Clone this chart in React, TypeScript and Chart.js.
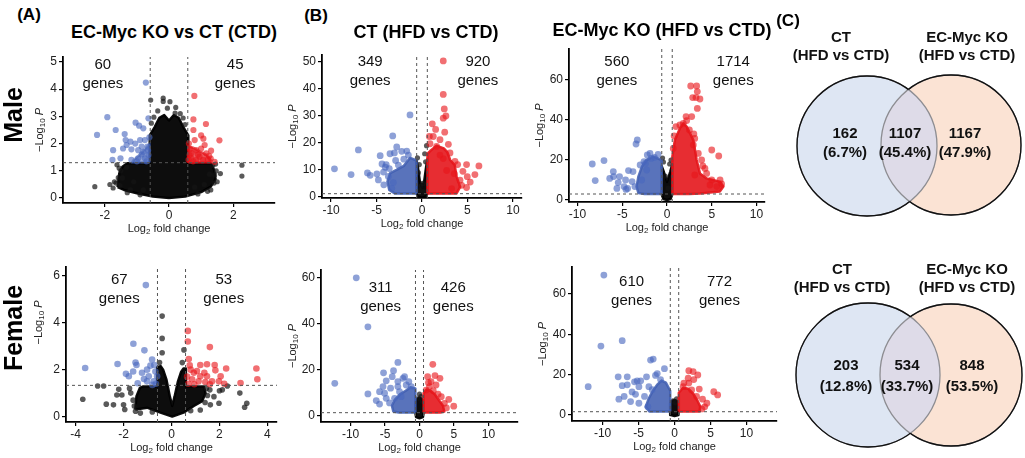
import React, { useEffect, useRef } from "react";
import { Chart, registerables } from "chart.js";
Chart.register(...registerables);

type P = [number, number];
const FONT = '"Liberation Sans", Arial, Helvetica, sans-serif';

// ---------------- thresholds ----------------
const FC_CUT = 0.585;

// ---------------- Male, panel A: EC-Myc KO vs CT (CTD) ----------------
const maleA_xTicks = [-2, 0, 2];
const maleA_yTicks = [0, 1, 2, 3, 4, 5];
const maleA_counts = [60, 45];
const maleA_nsCloud: P[] = [[-1.6,0.4],[-1.55,0.9],[-1.45,1.15],[-1.3,1.28],[-0.6,1.28],[-0.6,2.3],[-0.45,2.6],[-0.3,2.95],[-0.15,3.05],[0,2.85],[0.15,3.05],[0.3,2.95],[0.45,2.6],[0.6,2.3],[0.6,1.28],[1.3,1.28],[1.4,1.05],[1.45,0.7],[1.3,0.42],[1.0,0.22],[0.5,0.06],[0,0],[-0.5,0.06],[-1.0,0.18],[-1.4,0.3],[-1.6,0.4]];
const maleA_downCloud: P[] = [[-0.6,1.31],[-0.6,2.0],[-0.75,1.8],[-0.95,1.55],[-1.1,1.4],[-1.15,1.31],[-0.6,1.31]];
const maleA_upCloud: P[] = [[0.6,1.31],[0.6,1.9],[0.75,1.85],[0.95,1.72],[1.15,1.6],[1.3,1.4],[1.32,1.31],[0.6,1.31]];
const maleA_ns: P[] = [[2.27,1.21],[2.27,0.81],[-2.31,0.42],[-1.84,0.5],[-1.74,0.37],[-1.53,0.46],[-1.45,0.74],[-1.55,1.1],[-1.32,1.13],[-1.7,0.6],[-1.2,0.3],[1.36,1.2],[1.26,0.88],[1.47,1.0],[1.5,0.6],[1.3,0.3],[-0.57,3.6],[-0.18,3.67],[-0.18,3.55],[0.03,3.54],[0.21,3.33],[-0.47,2.97],[0.19,3.12],[0.44,2.94],[-0.35,3.2],[0.35,3.1],[-0.05,3.3],[0.5,2.7],[-0.55,2.75],[1.1,0.5],[-1.1,0.6],[0.8,0.4],[-0.8,0.3],[1.6,0.9],[-1.65,0.55],[-1.58,0.75],[-1.5,1.0],[1.42,0.85],[1.4,0.55],[1.2,0.25],[-1.3,0.2],[0.9,0.15],[-0.9,0.12],[-1.62,1.22],[1.45,1.25]];
const maleA_down: P[] = [[-0.72,4.24],[-1.92,2.97],[-2.24,2.32],[-1.66,2.5],[-1.38,2.35],[-1.04,2.77],[-0.93,2.66],[-0.8,2.56],[-0.64,2.93],[-1.35,2.13],[-1.2,2.07],[-1.05,2.0],[-0.9,2.13],[-0.75,2.13],[-1.74,1.76],[-1.43,1.82],[-1.17,1.79],[-0.96,1.76],[-0.8,1.7],[-1.76,1.4],[-1.51,1.46],[-1.17,1.4],[-0.96,1.46],[-0.75,1.46],[-0.64,1.58],[-0.67,1.89],[-0.85,1.89],[-0.61,2.23],[-1.32,1.95],[-0.7,1.35],[-0.85,1.6],[-0.65,1.75],[-1.0,1.35]];
const maleA_up: P[] = [[0.79,3.75],[0.76,2.89],[1.15,2.72],[0.76,2.5],[1.57,2.12],[1.0,2.3],[1.07,2.18],[0.8,2.13],[0.66,1.8],[0.85,1.76],[1.0,1.82],[1.31,1.74],[1.16,1.64],[0.95,1.52],[0.69,1.46],[0.85,1.4],[1.06,1.4],[1.21,1.42],[1.42,1.33],[0.64,1.58],[1.11,1.95],[0.61,1.4],[0.7,1.65],[0.9,1.6],[0.75,1.35],[1.25,1.55],[0.62,2.0],[1.3,1.45]];

// ---------------- Male, panel B: CT (HFD vs CTD) ----------------
const maleB1_xTicks = [-10, -5, 0, 5, 10];
const maleB1_yTicks = [0, 10, 20, 30, 40, 50];
const maleB1_counts = [349, 920];
const maleB1_nsCloud: P[] = [[-0.6,1.3],[-0.6,13.5],[-0.45,11],[-0.25,6],[0,3.5],[0.25,6],[0.45,11],[0.6,14],[0.6,1.3],[0.45,0.2],[0,-0.3],[-0.45,0.2],[-0.6,1.3]];
const maleB1_downCloud: P[] = [[-0.6,1.3],[-0.6,13.5],[-1.3,14.5],[-2.0,11.5],[-2.8,10],[-3.5,8.8],[-3.8,5.7],[-3.6,2.6],[-3.0,1.3],[-0.6,1.3]];
const maleB1_upCloud: P[] = [[0.6,1.3],[0.6,16],[0.9,17],[1.6,19],[2.4,18],[2.8,16.5],[3.1,13.7],[3.6,11.8],[3.8,7.5],[4.2,3.7],[3.8,1.3],[0.6,1.3]];
const maleB1_ns: P[] = [[0.5,19],[-0.5,14.5],[0.3,16],[-0.3,12],[0.1,5],[-0.1,4],[0.4,13],[-0.4,9],[0.2,2],[-0.2,2.5]];
const maleB1_down: P[] = [[-1.32,30.4],[-3.22,22.6],[-7.0,17.4],[-9.63,10.4],[-7.8,8.3],[-6.0,8.9],[-4.6,15.3],[-3.94,12.0],[-4.96,8.5],[-4.23,9.2],[-2.78,18.5],[-2.23,16.9],[-1.68,17.0],[-3.52,16.0],[-3.04,16.3],[-3.7,7.6],[-4.8,6.3],[-3.15,5.3],[-3.33,3.2],[-4.04,11.0],[-2.6,11.8],[-4.4,12.2],[-5.7,8.0],[-2.0,14.0],[-1.5,15.5],[-3.6,10.5],[-4.2,4.5],[-2.9,13.5]];
const maleB1_up: P[] = [[2.34,50.4],[2.34,38.0],[2.45,32.6],[2.63,30.0],[2.34,29.2],[1.13,27.1],[0.81,22.4],[1.24,22.4],[0.88,19.7],[1.98,21.2],[1.61,18.7],[3.08,16.3],[3.63,13.2],[3.92,12.0],[4.9,12.0],[6.26,11.5],[5.82,8.3],[4.98,7.5],[4.18,6.2],[4.36,4.3],[4.9,3.5],[3.26,3.1],[2.71,9.8],[2.34,14.2],[3.55,8.6],[1.98,15.5],[2.9,19.5],[2.5,24],[1.5,25],[4.5,9.5],[5.3,5.5]];

// ---------------- Male, panel B: EC-Myc KO (HFD vs CTD) ----------------
const maleB2_xTicks = [-10, -5, 0, 5, 10];
const maleB2_yTicks = [0, 20, 40, 60];
const maleB2_counts = [560, 1714];
const maleB2_nsCloud: P[] = [[-0.6,3],[-0.6,17],[-0.35,14],[0,9],[0.35,14],[0.6,18],[0.6,3],[0.4,0.5],[0,0],[-0.4,0.5],[-0.6,3]];
const maleB2_downCloud: P[] = [[-0.6,3],[-0.6,20],[-1.5,21.7],[-2.3,20],[-2.8,16.7],[-3.2,11.7],[-3.4,6.7],[-3.2,3.5],[-2.5,3],[-0.6,3]];
const maleB2_upCloud: P[] = [[0.6,3],[0.6,21.7],[0.88,30],[1.44,35.8],[1.82,38.3],[2.2,36.7],[2.57,33.3],[2.94,30],[3.31,20],[3.68,13.3],[4.43,10.8],[5.9,9.2],[6.3,6.7],[5.9,4.2],[3.7,3.3],[2.5,3],[0.6,3]];
const maleB2_ns: P[] = [[-0.4,19],[0.3,18],[-0.2,12],[0.1,6],[-0.5,21],[0.45,20]];
const maleB2_down: P[] = [[-3.32,30],[-3.46,28],[-8.35,18],[-7.04,19.7],[-8.02,9.7],[-6.0,14.2],[-5.97,11.7],[-6.4,10.8],[-5.45,8.7],[-4.63,10],[-4.3,14.7],[-3.8,14.2],[-3.9,9.2],[-4.8,6.7],[-4.4,5.8],[-2.4,18.3],[-2.57,19.2],[-1.9,23.3],[-1.4,21.3],[-1.77,20.8],[-2.27,15],[-2.83,10],[-3.59,6.7],[-5.3,11.7],[-5.6,5.8],[-4.58,5.3],[-3.0,17.5],[-2.2,22.5],[-1.0,22.8]];
const maleB2_up: P[] = [[2.65,57],[3.31,57],[3.39,54.2],[2.87,51.2],[3.24,51.2],[3.68,50.5],[3.39,45.8],[2.13,41.7],[1.82,38.3],[1.0,36.7],[1.44,37.5],[2.2,39.7],[3.1,30.8],[5.0,25],[5.78,22],[3.87,20],[4.24,15.8],[4.43,13.3],[5.0,10],[5.93,10],[6.1,8],[5.57,6.7],[4.8,7.5],[3.1,12.5],[3.5,23.3],[0.7,25.8],[2.94,27.5],[2.76,41.7],[2.5,35],[3.0,33],[4.0,17],[0.8,32]];

// ---------------- Female, panel A ----------------
const femaleA_xTicks = [-4, -2, 0, 2, 4];
const femaleA_yTicks = [0, 2, 4, 6];
const femaleA_counts = [67, 53];
const femaleA_nsCloud: P[] = [[-1.51,0.3],[-1.46,0.87],[-1.32,1.22],[-1.2,1.28],[-0.6,1.28],[-0.6,2.1],[-0.45,2.15],[-0.35,2.0],[-0.21,1.57],[-0.07,0.86],[0.03,0.45],[0.13,0.86],[0.27,1.5],[0.4,1.9],[0.5,2.05],[0.6,2.05],[0.6,1.28],[1.35,1.28],[1.42,1.0],[1.28,0.66],[0.93,0.45],[0.5,0.17],[0.03,0.0],[-0.46,0.17],[-1.02,0.38],[-1.51,0.3]];
const femaleA_ns: P[] = [[-3.7,0.74],[-3.08,1.3],[-2.83,1.3],[-2.72,0.53],[-2.42,0.5],[-2.28,0.92],[-2.07,0.92],[-1.95,0.3],[-1.5,0.23],[-1.75,1.2],[-2.2,1.16],[-2.0,0.5],[-0.39,4.28],[-0.39,3.33],[-0.39,2.72],[0.52,2.84],[1.6,1.14],[1.77,0.85],[1.98,0.57],[1.62,0.5],[1.2,0.28],[2.12,1.14],[2.33,1.3],[2.85,1.0],[3.14,0.57],[3.05,0.4],[-1.6,0.7],[-1.3,0.15],[1.5,0.9],[-0.5,2.3],[0.45,2.3],[-1.7,1.0],[2.0,1.1],[-1.55,0.45],[1.45,1.2],[1.4,0.6],[-0.8,0.2],[0.8,0.25]];
const femaleA_down: P[] = [[-1.07,5.6],[-3.6,2.07],[-2.25,2.24],[-1.59,3.1],[-1.13,2.82],[-1.5,2.3],[-1.46,2.2],[-1.9,1.82],[-1.78,1.72],[-1.41,1.42],[-1.6,1.92],[-1.02,2.0],[-1.23,1.87],[-0.81,2.43],[-0.72,2.2],[-0.95,1.72],[-0.74,1.5],[-1.02,1.5],[-0.6,1.72],[-0.67,1.92],[-0.88,2.17],[-0.65,1.4],[-0.8,1.35],[-1.15,1.6]];
const femaleA_up: P[] = [[0.68,3.65],[0.68,3.2],[1.6,2.96],[0.72,2.45],[0.76,2.18],[1.2,2.2],[1.48,2.23],[1.8,2.2],[1.83,1.97],[2.28,2.05],[3.54,2.05],[3.58,1.59],[2.88,1.43],[0.93,1.87],[1.2,1.72],[1.48,1.72],[0.86,1.59],[1.13,1.5],[1.41,1.47],[1.69,1.5],[1.98,1.5],[2.05,1.72],[1.06,1.94],[1.37,1.87],[0.7,1.4],[0.65,1.7],[0.95,1.38],[1.6,1.38],[2.2,1.4],[0.8,2.0]];

// ---------------- Female, panel B: CT (HFD vs CTD) ----------------
const femaleB1_xTicks = [-10, -5, 0, 5, 10];
const femaleB1_yTicks = [0, 20, 40, 60];
const femaleB1_counts = [311, 426];
const femaleB1_nsCloud: P[] = [[-0.6,1.4],[-0.6,6],[-0.3,7.5],[0,8],[0.3,7.5],[0.6,6],[0.6,1.4],[0.5,-0.5],[0,-1],[-0.5,-0.5],[-0.6,1.4]];
const femaleB1_downCloud: P[] = [[-0.6,1.5],[-0.6,12],[-1.3,12.5],[-2,11],[-2.8,9.5],[-3.6,7],[-4,4.5],[-3.8,2],[-3,1.5],[-0.6,1.5]];
const femaleB1_upCloud: P[] = [[0.6,1.5],[0.6,10],[1,11.5],[1.6,11],[2.2,9.5],[2.8,7],[3.4,4.5],[3.6,2],[3,1.5],[0.6,1.5]];
const femaleB1_ns: P[] = [[0.2,8.5],[-0.3,7.5],[0,9.5],[0.4,6.5]];
const femaleB1_down: P[] = [[-9.18,60.1],[-7.49,38.8],[-12.3,14.2],[-7.49,9.6],[-3.14,23.3],[-5.22,18.8],[-3.77,19.7],[-3.96,17.1],[-2.17,17.1],[-2.4,16.4],[-4.83,15.3],[-3.14,15.0],[-4.2,12.1],[-3.14,12.8],[-5.8,10.6],[-5.07,9.9],[-6.28,6.7],[-5.8,5.2],[-4.83,7.7],[-3.62,7.7],[-2.66,8.4],[-4.35,5.7],[-1.93,13.5],[-1.55,15.0],[-1.2,12.8],[-2.9,10.6],[-5.3,12.8]];
const femaleB1_up: P[] = [[1.93,22.5],[2.25,17.6],[2.97,16.4],[1.18,17.1],[1.67,15.0],[2.4,13.5],[4.25,7.2],[4.97,4.3],[3.16,8.4],[3.6,5.5],[1.45,12.8],[0.97,11.3],[2.0,11.0],[2.7,9.5],[3.9,3.5],[1.3,14.5]];

// ---------------- Female, panel B: EC-Myc KO (HFD vs CTD) ----------------
const femaleB2_xTicks = [-10, -5, 0, 5, 10];
const femaleB2_yTicks = [0, 20, 40, 60];
const femaleB2_counts = [610, 772];
const femaleB2_nsCloud: P[] = [[-0.6,1.6],[-0.6,6],[-0.3,7],[0,7.4],[0.3,7],[0.6,6],[0.6,1.6],[0.5,0],[0,-0.5],[-0.5,0],[-0.6,1.6]];
const femaleB2_downCloud: P[] = [[-0.6,1.7],[-0.6,12],[-1.2,16],[-1.8,17],[-2.4,15],[-3,12],[-3.6,8],[-4,4],[-3.5,1.7],[-0.6,1.7]];
const femaleB2_upCloud: P[] = [[0.6,1.7],[0.6,11],[1.2,13.5],[1.9,13],[2.6,10.5],[3.2,7],[3.6,4],[3.5,1.7],[0.6,1.7]];
const femaleB2_ns: P[] = [[0.3,8],[-0.2,7],[0.1,6]];
const femaleB2_down: P[] = [[-9.82,69.3],[-7.27,36.8],[-10.23,34.1],[-12.0,14.0],[-7.83,18.9],[-6.57,18.9],[-7.27,14.5],[-6.57,14.9],[-7.73,7.8],[-7.0,9.2],[-5.56,16.4],[-5.19,16.9],[-4.7,16.9],[-4.95,14.0],[-3.89,18.9],[-3.33,27.2],[-2.96,27.7],[-2.64,19.6],[-2.4,20.5],[-1.4,22.9],[-1.94,17.5],[-5.9,11.4],[-5.42,10.2],[-6.11,6.6],[-4.95,5.8],[-3.7,4.1],[-3.56,14.0],[-4.17,9.2],[-3.1,12.5]];
const femaleB2_up: P[] = [[1.99,21.9],[2.59,21.5],[3.24,19.8],[1.9,18.2],[2.68,17.5],[1.99,15.8],[1.3,15.8],[1.2,14.0],[5.46,11.5],[6.0,9.9],[4.5,5.8],[3.9,7.8],[3.07,9.2],[3.44,12.8],[2.38,12.4],[4.2,4.0],[3.8,3.0]];

// ---------------- Venn (C) ----------------
const vennSetNames = [["CT", "(HFD vs CTD)"], ["EC-Myc KO", "(HFD vs CTD)"]];
const vennMaleCounts = [162, 1107, 1167];
const vennMalePercents = ["6.7%", "45.4%", "47.9%"];
const vennFemaleCounts = [203, 534, 848];
const vennFemalePercents = ["12.8%", "33.7%", "53.5%"];

// ---------------- styling ----------------
const NS_PT = "rgba(20,20,20,0.7)";
const DOWN_PT = "rgba(72,104,190,0.62)";
const UP_PT = "rgba(232,22,28,0.62)";
const NS_FILL = "rgba(0,0,0,0.95)";
const DOWN_FILL = "rgba(66,96,178,0.88)";
const UP_FILL = "rgba(228,22,28,0.9)";

function drawPieces(ctx: CanvasRenderingContext2D, pieces: any[], cx: number, cy: number) {
  let total = 0;
  for (const p of pieces) {
    ctx.font = `${p.italic ? "italic " : ""}${p.size}px ${FONT}`;
    p.w = ctx.measureText(p.t).width;
    total += p.w;
  }
  let x = cx - total / 2;
  ctx.textAlign = "left";
  ctx.textBaseline = "middle";
  for (const p of pieces) {
    ctx.font = `${p.italic ? "italic " : ""}${p.size}px ${FONT}`;
    ctx.fillText(p.t, x, cy + (p.dy || 0));
    x += p.w;
  }
}

const volcanoText = {
  id: "volcanoText",
  afterDraw(chart: any, _a: any, o: any) {
    const { ctx, chartArea: ca } = chart;
    const xs = chart.scales.x, ys = chart.scales.y;
    ctx.save();
    ctx.fillStyle = "#111";
    ctx.textAlign = "center";
    ctx.textBaseline = "middle";
    ctx.font = `15px ${FONT}`;
    o.counts.forEach((n: number, i: number) => {
      const [gx, gy] = o.countPos[i];
      const px = xs.getPixelForValue(gx), py = ys.getPixelForValue(gy);
      ctx.fillText(String(n), px, py);
      ctx.fillText("genes", px, py + 19);
    });
    ctx.fillStyle = "#222";
    drawPieces(ctx, [{ t: "Log", size: 11 }, { t: "2", size: 8, dy: 3 }, { t: " fold change", size: 11 }], (ca.left + ca.right) / 2, ca.bottom + 26);
    ctx.save();
    ctx.translate(ca.left - o.yTitleOffset, (ca.top + ca.bottom) / 2 + (o.yTitleShift || 0));
    ctx.rotate(-Math.PI / 2);
    drawPieces(ctx, [{ t: "\u2212Log", size: 11 }, { t: "10", size: 8, dy: 3 }, { t: " ", size: 11 }, { t: "P", size: 11, italic: true }], 0, 0);
    ctx.restore();
    ctx.restore();
  },
};

function axis(min: number, max: number, ticks: number[], isX: boolean, size: number) {
  return {
    type: "linear",
    min,
    max,
    grid: { display: true, drawOnChartArea: false, drawTicks: true, tickLength: 4, color: "#000", lineWidth: 1.2 },
    border: { display: true, color: "#000", width: 1.8 },
    ticks: {
      color: "#222",
      font: { family: FONT, size: 12 },
      padding: isX ? 1 : 2,
      maxRotation: 0,
      autoSkip: false,
      includeBounds: false,
      callback: (v: any) => String(v),
    },
    afterBuildTicks: (s: any) => {
      s.ticks = ticks.map((v) => ({ value: v }));
    },
    afterFit: (s: any) => {
      if (isX) s.height = size;
      else s.width = size;
      s.paddingTop = 0;
      s.paddingBottom = 0;
      s.paddingLeft = 0;
      s.paddingRight = 0;
    },
  };
}

function volcano(spec: any) {
  const pts = (a: P[]) => a.map(([x, y]) => ({ x, y }));
  const thr = (data: any[]) => ({
    data,
    showLine: true,
    borderColor: "#555",
    borderWidth: 1,
    borderDash: [3, 3],
    pointRadius: 0,
    fill: false,
  });
  const cloud = (a: P[], c: string) => ({
    data: pts(a),
    showLine: true,
    fill: "shape",
    backgroundColor: c,
    borderColor: c,
    borderWidth: 2.5,
    borderJoinStyle: "round",
    pointRadius: 0,
  });
  const dots = (a: P[], c: string, r: number) => ({
    data: pts(a),
    backgroundColor: c,
    borderWidth: 0,
    pointRadius: r,
    pointHoverRadius: r,
  });
  const [xMin, xMax] = spec.xRange;
  const [yMin, yMax] = spec.yRange;
  return {
    type: "scatter",
    data: {
      datasets: [
        thr([{ x: -FC_CUT, y: yMin }, { x: -FC_CUT, y: yMax }]),
        thr([{ x: FC_CUT, y: yMin }, { x: FC_CUT, y: yMax }]),
        thr([{ x: xMin, y: spec.pCut }, { x: xMax, y: spec.pCut }]),
        dots(spec.up, UP_PT, spec.rSig),
        dots(spec.down, DOWN_PT, spec.rSig),
        cloud(spec.upCloud, spec.cloudAlphaFill ? "rgba(228,22,28,0.7)" : UP_FILL),
        cloud(spec.downCloud, spec.cloudAlphaFill ? "rgba(66,96,178,0.55)" : DOWN_FILL),
        dots(spec.ns, NS_PT, spec.rNs),
        cloud(spec.nsCloud, NS_FILL),
      ],
    },
    options: {
      responsive: false,
      maintainAspectRatio: false,
      animation: false,
      events: [],
      layout: { padding: { top: 4, right: 4, left: 0, bottom: 0 } },
      plugins: {
        legend: { display: false },
        tooltip: { enabled: false },
        volcanoText: {
          counts: spec.counts,
          countPos: spec.countPos,
          yTitleOffset: spec.yTitleOffset,
          yTitleShift: spec.yTitleShift,
        },
      },
      scales: {
        x: axis(xMin, xMax, spec.xTicks, true, 34),
        y: axis(yMin, yMax, spec.yTicks, false, 45),
      },
    },
    plugins: [volcanoText],
  };
}

const vennPlugin = {
  id: "venn",
  afterDraw(chart: any, _a: any, o: any) {
    const { ctx } = chart;
    const xs = chart.scales.x, ys = chart.scales.y;
    const E = o.circles.map((c: any) => ({
      x: xs.getPixelForValue(c.cx),
      y: ys.getPixelForValue(c.cy),
      rx: Math.abs(xs.getPixelForValue(c.cx + c.r) - xs.getPixelForValue(c.cx)),
      ry: Math.abs(ys.getPixelForValue(c.cy + c.r) - ys.getPixelForValue(c.cy)),
    }));
    const path = (e: any) => {
      ctx.beginPath();
      ctx.moveTo(e.x + e.rx, e.y);
      ctx.ellipse(e.x, e.y, e.rx, e.ry, 0, 0, Math.PI * 2);
      ctx.closePath();
    };
    ctx.save();
    path(E[0]); ctx.fillStyle = "#dee6f3"; ctx.fill();
    path(E[1]); ctx.fillStyle = "#fbe3d4"; ctx.fill();
    ctx.save(); path(E[0]); ctx.clip(); path(E[1]); ctx.fillStyle = "#dedbe8"; ctx.fill(); ctx.restore();
    ctx.lineWidth = 1.3;
    ctx.strokeStyle = "#8d8d92";
    path(E[0]); ctx.stroke();
    path(E[1]); ctx.stroke();
    for (let i = 0; i < 2; i++) {
      const q = E[1 - i];
      ctx.save();
      ctx.beginPath();
      ctx.rect(0, 0, chart.width, chart.height);
      ctx.moveTo(q.x + q.rx, q.y);
      ctx.ellipse(q.x, q.y, q.rx, q.ry, 0, 0, Math.PI * 2);
      ctx.closePath();
      ctx.clip("evenodd");
      ctx.strokeStyle = "#111";
      path(E[i]); ctx.stroke();
      ctx.restore();
    }
    ctx.fillStyle = "#111";
    ctx.textAlign = "center";
    ctx.textBaseline = "middle";
    ctx.font = `bold 15px ${FONT}`;
    o.names.forEach((lines: string[], i: number) => {
      const [lx, ly] = o.namePos[i];
      lines.forEach((t, k) => ctx.fillText(t, xs.getPixelForValue(lx), ys.getPixelForValue(ly) + k * 18));
    });
    o.counts.forEach((n: number, i: number) => {
      const [cx, cy] = o.countPos[i];
      const px = xs.getPixelForValue(cx), py = ys.getPixelForValue(cy);
      ctx.fillText(String(n), px, py);
      ctx.fillText(`(${o.percents[i]})`, px, py + o.lineGap);
    });
    ctx.restore();
  },
};

function venn(spec: any) {
  return {
    type: "scatter",
    data: { datasets: [] },
    options: {
      responsive: false,
      maintainAspectRatio: false,
      animation: false,
      events: [],
      layout: { padding: 0 },
      plugins: { legend: { display: false }, tooltip: { enabled: false }, venn: spec },
      scales: {
        x: { display: false, min: 0, max: 255 },
        y: { display: false, min: 0, max: 229, reverse: true },
      },
    },
    plugins: [vennPlugin],
  };
}

function ChartCanvas({ make, left, top, width, height }: any) {
  const ref = useRef<HTMLCanvasElement>(null);
  useEffect(() => {
    const chart = new Chart(ref.current as HTMLCanvasElement, make());
    return () => chart.destroy();
  }, []);
  return (
    <canvas
      ref={ref}
      width={width}
      height={height}
      style={{ position: "absolute", left, top, width, height }}
    />
  );
}

function Label({ x, y, size, bold = true, rotate = false, children }: any) {
  return (
    <div
      style={{
        position: "absolute",
        left: x,
        top: y,
        transform: `translate(-50%, -50%)${rotate ? " rotate(-90deg)" : ""}`,
        fontSize: size,
        fontWeight: bold ? 700 : 400,
        whiteSpace: "nowrap",
        lineHeight: 1,
        fontFamily: FONT,
        color: "#000",
      }}
    >
      {children}
    </div>
  );
}

// canvas placement: box (plot frame) -> canvas
const place = (L: number, T: number, R: number, B: number) => ({ left: L - 45, top: T - 4, width: R - L + 49, height: B - T + 38 });

export default function App() {
  const charts = [
    {
      box: place(63, 57, 275, 203),
      make: () => volcano({
        xRange: [-3.3, 3.3], yRange: [-0.18, 5.18], xTicks: maleA_xTicks, yTicks: maleA_yTicks, pCut: 1.3,
        ns: maleA_ns, down: maleA_down, up: maleA_up, nsCloud: maleA_nsCloud, downCloud: maleA_downCloud, upCloud: maleA_upCloud,
        counts: maleA_counts, countPos: [[-2.06, 4.89], [2.06, 4.89]], yTitleOffset: 23, rNs: 2.6, rSig: 3.1, cloudAlphaFill: true,
      }),
    },
    {
      box: place(322, 55, 522, 198),
      make: () => volcano({
        xRange: [-11, 11], yRange: [-0.4, 52.6], xTicks: maleB1_xTicks, yTicks: maleB1_yTicks, pCut: 1.2,
        ns: maleB1_ns, down: maleB1_down, up: maleB1_up, nsCloud: maleB1_nsCloud, downCloud: maleB1_downCloud, upCloud: maleB1_upCloud,
        counts: maleB1_counts, countPos: [[-5.7, 50], [6.15, 50]], yTitleOffset: 29, rNs: 2.6, rSig: 3.4,
      }),
    },
    {
      box: place(569, 49, 765, 202),
      make: () => volcano({
        xRange: [-10.95, 10.95], yRange: [-1, 75.5], xTicks: maleB2_xTicks, yTicks: maleB2_yTicks, pCut: 3,
        ns: maleB2_ns, down: maleB2_down, up: maleB2_up, nsCloud: maleB2_nsCloud, downCloud: maleB2_downCloud, upCloud: maleB2_upCloud,
        counts: maleB2_counts, countPos: [[-5.6, 69], [7.4, 69]], yTitleOffset: 29, rNs: 2.6, rSig: 3.4,
      }),
    },
    {
      box: place(66, 267, 277, 422),
      make: () => volcano({
        xRange: [-4.4, 4.4], yRange: [-0.23, 6.37], xTicks: femaleA_xTicks, yTicks: femaleA_yTicks, pCut: 1.33,
        ns: femaleA_ns, down: femaleA_down, up: femaleA_up, nsCloud: femaleA_nsCloud, downCloud: [], upCloud: [],
        counts: femaleA_counts, countPos: [[-2.18, 5.82], [2.18, 5.82]], yTitleOffset: 27, yTitleShift: -22, rNs: 2.8, rSig: 3.3,
      }),
    },
    {
      box: place(321, 270, 518, 422),
      make: () => volcano({
        xRange: [-14.3, 14.3], yRange: [-2.6, 63.5], xTicks: femaleB1_xTicks, yTicks: femaleB1_yTicks, pCut: 1.45,
        ns: femaleB1_ns, down: femaleB1_down, up: femaleB1_up, nsCloud: femaleB1_nsCloud, downCloud: femaleB1_downCloud, upCloud: femaleB1_upCloud,
        counts: femaleB1_counts, countPos: [[-5.65, 55.7], [4.9, 55.7]], yTitleOffset: 28, rNs: 2.6, rSig: 3.4,
      }),
    },
    {
      box: place(572, 267, 777, 421),
      make: () => volcano({
        xRange: [-14.25, 14.25], yRange: [-3, 73.3], xTicks: femaleB2_xTicks, yTicks: femaleB2_yTicks, pCut: 1.6,
        ns: femaleB2_ns, down: femaleB2_down, up: femaleB2_up, nsCloud: femaleB2_nsCloud, downCloud: femaleB2_downCloud, upCloud: femaleB2_upCloud,
        counts: femaleB2_counts, countPos: [[-5.97, 65.8], [6.25, 65.8]], yTitleOffset: 29, rNs: 2.6, rSig: 3.4,
      }),
    },
    {
      box: { left: 770, top: 0, width: 255, height: 229 },
      make: () => venn({
        circles: [{ cx: 97, cy: 146, r: 70 }, { cx: 181, cy: 145, r: 70 }],
        names: vennSetNames, namePos: [[71, 38], [197, 38]],
        counts: vennMaleCounts, percents: vennMalePercents,
        countPos: [[75, 134], [135, 134], [195, 134]], lineGap: 19,
      }),
    },
    {
      box: { left: 770, top: 229, width: 255, height: 229 },
      make: () => venn({
        circles: [{ cx: 98, cy: 146, r: 72 }, { cx: 181, cy: 146, r: 71 }],
        names: vennSetNames, namePos: [[72, 41], [197, 41]],
        counts: vennFemaleCounts, percents: vennFemalePercents,
        countPos: [[76, 137], [137, 137], [202, 137]], lineGap: 21,
      }),
    },
  ];

  return (
    <div
      style={{
        position: "absolute",
        left: 0,
        top: 0,
        width: 1025,
        height: 458,
        background: "#fff",
        overflow: "hidden",
      }}
    >
      {charts.map((c, i) => (
        <ChartCanvas key={i} make={c.make} {...c.box} />
      ))}
      <Label x={29} y={14} size={17}>(A)</Label>
      <Label x={316} y={15} size={17}>(B)</Label>
      <Label x={788} y={20} size={17}>(C)</Label>
      <Label x={174} y={32} size={18}>EC-Myc KO vs CT (CTD)</Label>
      <Label x={426} y={32} size={18}>CT (HFD vs CTD)</Label>
      <Label x={662} y={30} size={18}>EC-Myc KO (HFD vs CTD)</Label>
      <Label x={13} y={115} size={25} rotate>Male</Label>
      <Label x={13} y={328} size={25} rotate>Female</Label>
    </div>
  );
}
